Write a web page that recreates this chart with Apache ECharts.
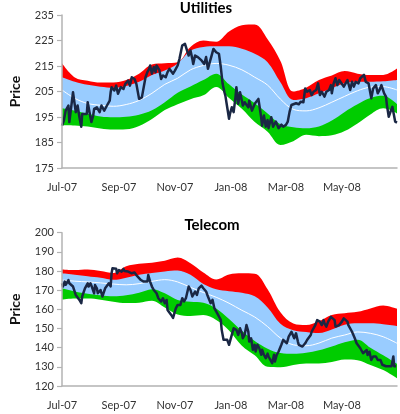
<!DOCTYPE html>
<html>
<head>
<meta charset="utf-8">
<script src="https://cdn.jsdelivr.net/npm/echarts@6/dist/echarts.min.js"></script>
<style>
html,body{margin:0;padding:0;background:#fff;}
#chart{width:400px;height:414px;}
</style>
</head>
<body>
<div id="chart"></div>
<script>
// x values are days since 1 Jul 2007
var tickDays = [0, 62, 123, 184, 244, 305];
var tickLabels = ['Jul-07', 'Sep-07', 'Nov-07', 'Jan-08', 'Mar-08', 'May-08'];
var utilTicks = [175, 185, 195, 205, 215, 225, 235];

var bandDays = [0,14,28,42,56,70,84,98,112,126,140,154,168,182,196,210,224,238,252,266,280,294,308,322,336,350,365];

// Utilities bands
var utilUpper2 = [216.1,210.5,209.2,208.5,208.5,209.5,212,215.6,216.1,216.5,222.5,225,224.5,228.5,231,231.3,225.5,217,205,206.5,209.5,211.3,213,212,211.5,211.5,214];
var utilUpper1 = [210.6,208.8,207.6,206.9,206.5,207.2,208.8,211.5,213.2,216,221,222.5,222.7,222.7,221.8,219.8,216.5,208.6,201.7,202.4,204.3,206.3,208.2,208.8,208.8,209,209.5];
var utilMid    = [205.6,202.3,200.3,199.6,199.2,199.9,201.5,204.3,207.8,210.2,213.5,215.2,216,215.3,213.5,210.6,207.5,202,198,197.4,198.6,200.8,203.1,205.3,206.7,206.9,205.6];
var utilLower1 = [198.4,197.5,196.3,195.2,194.9,195.1,195.9,197.6,200.8,204.5,207,209.5,212,207.8,203.8,200.4,196.4,192.2,191,190.6,191.3,193.6,197,200,202.5,203.3,200];
var utilLower2 = [191.8,191.7,191.3,190.5,190.1,190.2,191.5,194.2,197.7,200,202,203.5,206.8,202.5,198.2,193,189.2,184,185.5,188,187.5,187.8,189.5,192.5,196,198.4,196.4];

// Utilities price
var utilPriceDays = [0,2,4,7,8,10,12,14,15,17,19,21,22,24,27,28,30,32,34,35,38,41,43,46,49,52,53,54,57,59,61,64,67,69,72,74,76,79,81,84,87,89,91,93,95,96,98,100,102,103,106,108,110,113,115,117,121,123,126,128,131,134,136,138,140,142,143,145,148,150,152,155,157,159,161,163,165,168,170,171,173,175,177,178,180,182,183,185,187,189,190,192,194,196,197,199,201,203,204,207,210,211,214,217,218,220,222,224,225,228,230,233,236,239,241,244,246,248,250,252,255,258,260,263,265,267,270,272,274,277,279,281,283,286,288,291,293,294,296,298,300,302,304,307,309,311,314,316,318,320,323,325,327,329,331,332,334,337,339,340,342,344,346,348,351,353,354,356,358,360,361,363,365];
var utilPrice = [191.6,193.6,197.5,199.5,193.0,198.8,204.7,204.1,196.9,199.5,194.9,191.2,196.2,196.9,196.2,200.8,196.9,193.0,195.6,198.2,198.8,196.9,199.5,197.5,199.5,201.4,204.7,206.7,205.4,207.3,204.1,206.7,206.0,208.0,209.3,207.3,210.6,209.9,208.0,202.1,202.7,203.4,210.6,212.6,213.9,215.2,212.0,214.6,212.6,215.2,213.5,209.9,211.3,210.6,212.6,213.9,212.0,213.2,215.2,217.8,223.0,223.7,223.0,219.1,221.1,217.8,215.8,219.1,218.5,219.1,217.2,215.8,218.5,213.9,216.5,219.1,221.7,220.4,221.1,219.8,214.6,208.0,204.7,203.4,198.8,194.3,196.2,198.8,196.9,202.7,206.7,200.2,204.7,201.4,199.5,200.8,200.2,198.8,201.4,197.5,200.2,199.5,202.1,194.9,191.6,195.6,191.2,193.8,190.6,194.9,191.2,193.2,190.6,192.0,191.2,191.9,193.2,197.1,199.7,199.5,200.4,200.0,201.0,200.8,206.2,204.9,205.6,203.6,204.9,205.6,208.2,203.6,204.9,203.0,204.9,205.6,207.5,204.3,208.2,210.2,207.5,209.5,210.2,206.9,208.2,209.5,205.6,208.8,206.9,208.8,208.2,210.2,209.5,211.5,208.8,209.5,208.2,202.3,206.2,205.6,207.5,204.3,205.6,207.5,204.3,203.0,199.7,195.1,197.1,199.0,197.1,193.2,192.8];

// Telecom bands
var telUpper2 = [180.8,180.5,180.8,180,179,182.5,183.8,184.3,185.3,187,184,179.2,175.6,178.2,178.8,178.6,170.5,158.5,152.6,151.8,153.8,157.1,158,158.7,160.5,162,160.3];
var telUpper1 = [178.8,178.1,177.3,176.5,175.4,176.5,178.1,179,179.8,180.3,178,173.2,170.5,169.5,168.7,166.8,161,152.5,149.1,148.2,147.6,149.5,152,152.7,152.7,152.2,151.3];
var telMid    = [175.3,174.7,174.3,173.8,173.2,172.8,173.4,174.6,175.5,174.3,171.5,168.8,166.3,163.2,159.5,156,151,145,141.5,141,142.4,145,146.6,148.2,147.5,145.7,142.3];
var telLower1 = [171,169.3,168.2,167.4,166.8,167.3,168.6,170.5,168.4,164.9,164,163.5,160.5,155,148.8,143.5,139.5,137.2,136.8,137.3,138.6,140.6,142.8,144.2,140,136,131.5];
var telLower2 = [165,165.6,165.6,165,164,163.3,163.5,164.5,161,157.3,156.5,157,154.5,149,141,136,130,129.8,131,131.8,131.8,132.5,133.8,133.5,131,128.3,124];

// Telecom price
var telPriceDays = [0,1,3,4,7,8,10,12,14,15,17,19,21,22,24,25,28,29,31,32,35,36,38,39,42,44,46,47,49,51,53,54,55,57,59,60,62,65,67,68,70,72,74,76,79,81,83,86,88,89,91,93,94,96,98,100,101,103,105,107,108,110,112,114,115,117,119,121,122,124,126,128,129,131,133,135,136,138,140,142,143,145,147,149,150,152,154,156,157,159,161,162,164,166,168,169,171,173,174,176,178,180,182,183,185,187,188,190,192,194,196,197,199,201,203,204,206,208,210,211,213,215,217,218,220,222,224,225,227,229,231,232,234,236,237,239,241,243,245,247,250,251,253,255,257,258,260,262,264,265,267,269,271,272,274,276,278,279,281,283,285,286,288,290,292,293,295,297,298,300,302,304,305,307,309,311,312,314,316,318,319,321,323,325,326,328,330,332,333,335,337,339,340,342,344,346,347,349,351,353,354,356,358,359,361,362,364];
var telPrice = [173.6,171.9,174.5,172.8,175.3,173.6,174.5,171.9,171.0,167.5,167.8,164.9,163.2,166.7,166.5,171.0,173.6,171.9,173.6,172.5,168.4,172.7,171.0,168.4,170.1,166.7,166.9,171.0,171.9,173.6,172.0,178.8,181.4,180.5,181.2,178.8,180.5,179.7,181.1,180.0,180.9,179.7,180.0,178.8,179.2,177.9,178.2,175.3,176.2,174.5,175.3,174.5,177.9,174.5,171.9,170.1,171.0,168.4,165.8,166.7,164.1,165.8,163.2,164.9,159.7,158.8,157.1,155.5,156.2,160.5,162.3,163.2,162.3,165.8,164.1,165.8,166.7,171.9,170.1,166.7,165.8,169.3,167.5,171.0,171.9,172.4,171.0,171.9,169.3,166.7,167.5,163.2,165.0,160.6,159.7,158.0,157.1,154.5,149.3,144.1,143.2,144.1,141.5,142.3,146.7,150.1,151.0,149.3,146.7,150.1,147.5,144.9,146.7,151.8,148.4,143.2,144.9,138.9,141.5,138.0,141.5,139.7,136.3,138.9,136.3,134.5,136.9,135.4,136.3,131.9,136.3,132.8,136.3,138.0,138.9,141.5,144.1,144.9,142.3,145.8,148.3,147.5,144.9,147.5,143.2,141.5,140.6,140.6,141.3,142.3,144.0,144.9,146.6,148.3,147.5,151.8,154.4,155.3,153.6,151.8,154.4,152.7,151.0,153.6,154.4,156.1,157.0,154.4,151.0,150.1,151.8,151.0,153.6,155.3,156.1,153.6,151.8,151.0,148.3,147.5,144.9,142.3,141.5,139.7,138.8,137.1,136.2,138.8,136.2,137.9,133.6,135.4,135.4,135.4,133.6,132.8,133.6,131.1,132.0,130.3,131.1,130.3,131.1,130.3,135.4,130.3,130.3];

function zip(xs, ys) { return xs.map(function (x, i) { return [x, ys[i]]; }); }

var FONT = 'Lato';
var RED = '#FF0000', BLUE = '#99CCFF', GREEN = '#00CC00', NAVY = '#1A2744', AXIS = '#B3B3B3';

function bandSeries(idx, up2, up1, mid, lo1, lo2, price, priceDays) {
  function area(data, color) {
    return {
      type: 'line', xAxisIndex: idx, yAxisIndex: idx, data: zip(bandDays, data),
      smooth: 0.35, showSymbol: false, silent: true,
      lineStyle: { width: 0, color: color },
      areaStyle: { color: color, opacity: 1, origin: 'start' }
    };
  }
  return [
    area(up2, RED),
    area(up1, BLUE),
    area(lo1, GREEN),
    area(lo2, '#FFFFFF'),
    { type: 'line', xAxisIndex: idx, yAxisIndex: idx, data: zip(bandDays, mid), smooth: 0.35,
      showSymbol: false, silent: true, lineStyle: { width: 1, color: '#FFFFFF' } },
    { type: 'line', xAxisIndex: idx, yAxisIndex: idx, data: zip(priceDays, price),
      showSymbol: false, silent: true, lineStyle: { width: 2.5, color: NAVY, join: 'round' } }
  ];
}

function xAxisCfg(idx) {
  return {
    type: 'value', gridIndex: idx, min: 0, max: 365, z: 5,
    axisLine: { show: true, lineStyle: { color: AXIS, width: 1.5 } },
    axisTick: { show: false },
    splitLine: { show: false },
    axisLabel: {
      customValues: tickDays, margin: 14, fontFamily: FONT, fontSize: 11, color: '#333',
      formatter: function (v) { var i = tickDays.indexOf(Math.round(v)); return i >= 0 ? tickLabels[i] : ''; }
    }
  };
}

function yAxisCfg(idx, min, max, extra) {
  var cfg = {
    type: 'value', gridIndex: idx, min: min, max: max, z: 5,
    name: 'Price', nameLocation: 'middle', nameGap: 40,
    nameTextStyle: { fontFamily: FONT, fontSize: 14, fontWeight: 'bold', color: '#111' },
    axisLine: { show: true, lineStyle: { color: AXIS, width: 1.5 } },
    axisTick: { show: true, length: 5, lineStyle: { color: AXIS, width: 1.2 } },
    splitLine: { show: false },
    axisLabel: { margin: 8, fontFamily: FONT, fontSize: 11, color: '#333' }
  };
  for (var k in extra) {
    if (typeof extra[k] === 'object') { cfg[k] = Object.assign(cfg[k] || {}, extra[k]); }
    else { cfg[k] = extra[k]; }
  }
  return cfg;
}

var chart = echarts.init(document.getElementById('chart'), null, { renderer: 'canvas' });
chart.setOption({
  animation: false,
  backgroundColor: '#fff',
  title: [
    { text: 'Utilities', left: 206, top: 1, padding: 0, textAlign: 'center',
      textStyle: { fontFamily: FONT, fontSize: 15, fontWeight: 'bold', color: '#000' } },
    { text: 'Telecom', left: 212, top: 218, padding: 0, textAlign: 'center',
      textStyle: { fontFamily: FONT, fontSize: 15, fontWeight: 'bold', color: '#000' } }
  ],
  grid: [
    { left: 48, top: 15, width: 349, height: 153 },
    { left: 48, top: 232.7, width: 349, height: 153.3 }
  ],
  xAxis: [xAxisCfg(0), xAxisCfg(1)],
  yAxis: [
    yAxisCfg(0, 175, 235, { axisLabel: { customValues: utilTicks }, axisTick: { customValues: utilTicks } }),
    yAxisCfg(1, 120, 200, { interval: 10 })
  ],
  series: bandSeries(0, utilUpper2, utilUpper1, utilMid, utilLower1, utilLower2, utilPrice, utilPriceDays)
    .concat(bandSeries(1, telUpper2, telUpper1, telMid, telLower1, telLower2, telPrice, telPriceDays))
});
</script>
</body>
</html>
